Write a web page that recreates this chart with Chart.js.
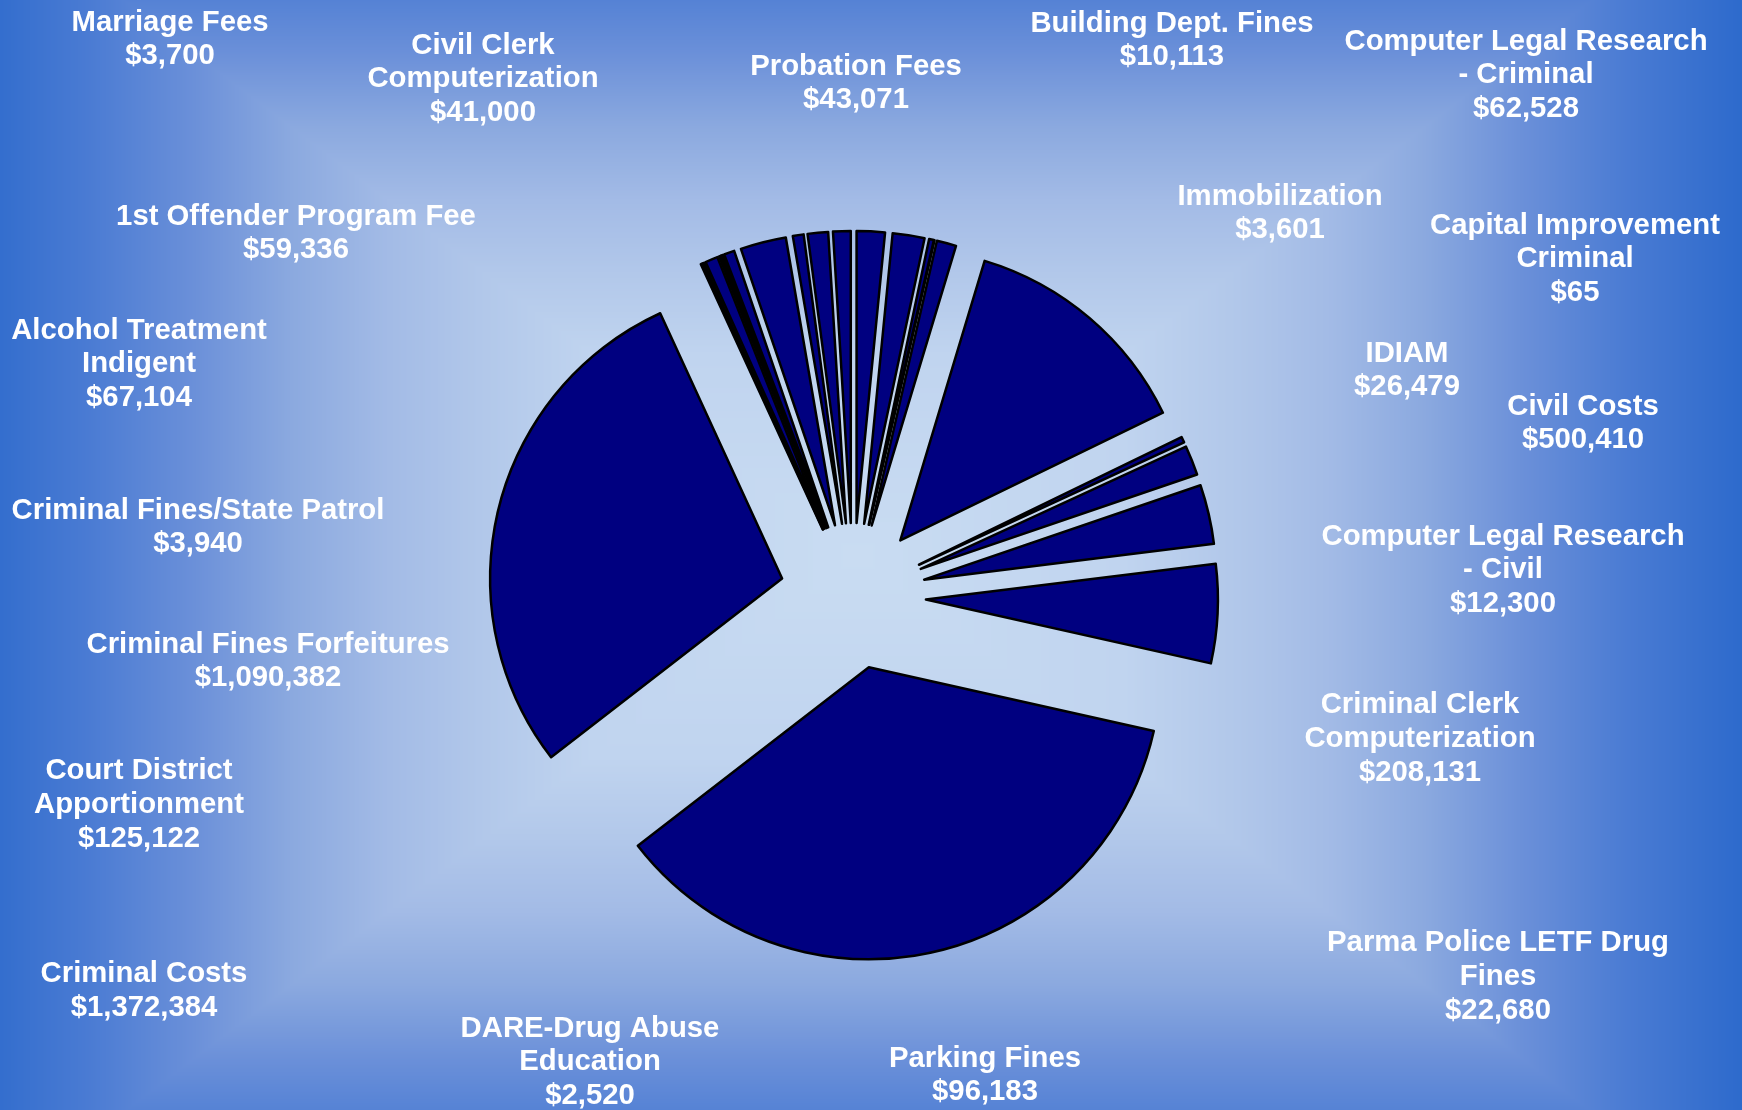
<!DOCTYPE html>
<html>
<head>
<meta charset="utf-8">
<title>Court Revenue</title>
<script src="https://cdn.jsdelivr.net/npm/chart.js@4.4.1/dist/chart.umd.min.js"></script>
<style>
html, body { margin: 0; padding: 0; background: #4a7bd3; overflow: hidden; }
canvas { display: block; }
</style>
</head>
<body>
<canvas id="chart" width="1742" height="1110"></canvas>
<script>
// ---------------- DATA ----------------
const categories = [
  '1st Offender Program Fee',
  'Alcohol Treatment Indigent',
  'Building Dept. Fines',
  'Capital Improvement Criminal',
  'Civil Clerk Computerization',
  'Civil Costs',
  'Computer Legal Research - Civil',
  'Computer Legal Research - Criminal',
  'Court District Apportionment',
  'Criminal Clerk Computerization',
  'Criminal Costs',
  'Criminal Fines Forfeitures',
  'Criminal Fines/State Patrol',
  'DARE-Drug Abuse Education',
  'IDIAM',
  'Immobilization',
  'Marriage Fees',
  '',                       // unlabeled slice
  'Parking Fines',
  'Parma Police LETF Drug Fines',
  'Probation Fees',
  ''                        // unlabeled slice
];

const values = [
  59336, 67104, 10113, 65, 41000, 500410, 12300, 62528, 125122, 208131,
  1372384, 1090382, 3940, 2520, 26479, 3601, 3700, 22000, 96183, 22680,
  43071, 37000
];

// label text lines (the value line is added from `values`)
const labelLines = [
  ['1st Offender Program Fee'],
  ['Alcohol Treatment', 'Indigent'],
  ['Building Dept. Fines'],
  ['Capital Improvement', 'Criminal'],
  ['Civil Clerk', 'Computerization'],
  ['Civil Costs'],
  ['Computer Legal Research', '- Civil'],
  ['Computer Legal Research', '- Criminal'],
  ['Court District', 'Apportionment'],
  ['Criminal Clerk', 'Computerization'],
  ['Criminal Costs'],
  ['Criminal Fines Forfeitures'],
  ['Criminal Fines/State Patrol'],
  ['DARE-Drug Abuse', 'Education'],
  ['IDIAM'],
  ['Immobilization'],
  ['Marriage Fees'],
  null,
  ['Parking Fines'],
  ['Parma Police LETF Drug', 'Fines'],
  ['Probation Fees'],
  null
];

// ---------------- LAYOUT (label anchors: centre x, first-line y) ----------------
const labelAnchors = [
  [296, 216.5], [139, 330.5], [1172, 23.5], [1575, 225.5], [483, 45.5], [1583, 406.5],
  [1503, 536.5], [1526, 41.5], [139, 771], [1420, 705], [144, 974], [268, 644.5],
  [198, 510.5], [590, 1028.5], [1407, 353.5], [1280, 196.5], [170, 22.5], null,
  [985, 1058.5], [1498, 943], [856, 66.5], null
];

// ---------------- exploded slice drawing (uniform radius, translated along bisector) ----------------
const ArcEl = Chart.ArcElement || (Chart.elements && Chart.elements.ArcElement);
ArcEl.prototype.draw = function (ctx) {
  const o = this.options;
  const a0 = this.startAngle, a1 = this.endAngle;
  if (!(a1 > a0)) return;
  const mid = (a0 + a1) / 2;
  const d = o.offset || 0;
  const cx = this.x + Math.cos(mid) * d;
  const cy = this.y + Math.sin(mid) * d;
  ctx.save();
  ctx.beginPath();
  ctx.moveTo(cx, cy);
  ctx.arc(cx, cy, this.outerRadius, a0, a1);
  ctx.closePath();
  ctx.fillStyle = o.backgroundColor;
  ctx.fill();
  if (o.borderWidth) {
    ctx.lineWidth = o.borderWidth;
    ctx.strokeStyle = o.borderColor;
    ctx.lineJoin = 'round';
    ctx.stroke();
  }
  ctx.restore();
};

// ---------------- background: rectangular path gradient ----------------
function hexToRgb(h) { const n = parseInt(h.slice(1), 16); return [(n >> 16) & 255, (n >> 8) & 255, n & 255]; }
const bgStops = [
  [0.00, '#c9dcf2'], [0.30, '#c0d4ef'], [0.42, '#b2c8ea'], [0.53, '#a3bbe6'],
  [0.64, '#8ba9df'], [0.75, '#6b90d9'], [0.87, '#4a7bd3'], [1.00, '#2d6acc']
].map(([t, c]) => [t, hexToRgb(c)]);
function bgColor(t) {
  for (let i = 1; i < bgStops.length; i++) {
    if (t <= bgStops[i][0]) {
      const [t0, c0] = bgStops[i - 1], [t1, c1] = bgStops[i];
      const f = (t - t0) / (t1 - t0);
      return [0, 1, 2].map(k => c0[k] + (c1[k] - c0[k]) * f);
    }
  }
  return bgStops[bgStops.length - 1][1];
}
let bgCache = null;
const backgroundPlugin = {
  id: 'pathGradientBackground',
  beforeDraw(chart) {
    const { ctx, width, height } = chart;
    if (!bgCache || bgCache.width !== width || bgCache.height !== height) {
      const off = document.createElement('canvas');
      off.width = width; off.height = height;
      const octx = off.getContext('2d');
      const img = octx.createImageData(width, height);
      const lut = [];
      for (let i = 0; i <= 1024; i++) lut.push(bgColor(i / 1024));
      const gx = 858, gy = 556, hw = 885, hh = 670;
      let p = 0;
      for (let y = 0; y < height; y++) {
        const ty = Math.abs(y + 0.5 - gy) / hh;
        for (let x = 0; x < width; x++) {
          const tx = Math.abs(x + 0.5 - gx) / hw;
          const t = Math.min(1, Math.max(tx, ty));
          const c = lut[Math.round(t * 1024)];
          img.data[p++] = c[0]; img.data[p++] = c[1]; img.data[p++] = c[2]; img.data[p++] = 255;
        }
      }
      octx.putImageData(img, 0, 0);
      bgCache = off;
    }
    ctx.save();
    ctx.drawImage(bgCache, 0, 0);
    ctx.restore();
  }
};

// ---------------- labels ----------------
const labelPlugin = {
  id: 'freeLabels',
  afterDraw(chart) {
    const ctx = chart.ctx;
    ctx.save();
    ctx.font = 'bold 29.3px "Liberation Sans", Arial, Helvetica, sans-serif';
    ctx.fillStyle = '#ffffff';
    ctx.textAlign = 'center';
    ctx.textBaseline = 'middle';
    const lineH = 33.9;
    categories.forEach((cat, i) => {
      const anchor = labelAnchors[i];
      const lines = labelLines[i];
      if (!anchor || !lines) return;
      const all = lines.concat(['$' + values[i].toLocaleString('en-US')]);
      all.forEach((txt, j) => ctx.fillText(txt, anchor[0], anchor[1] + j * lineH));
    });
    ctx.restore();
  }
};

// ---------------- chart ----------------
new Chart(document.getElementById('chart'), {
  type: 'pie',
  data: {
    labels: categories,
    datasets: [{
      data: values,
      backgroundColor: '#000080',
      borderColor: '#000000',
      borderWidth: 2.5,
      offset: 73,
      radius: 292
    }]
  },
  options: {
    responsive: false,
    animation: false,
    events: [],
    layout: { padding: { left: 0, right: 36, top: 82, bottom: 0 } },
    plugins: {
      legend: { display: false },
      tooltip: { enabled: false }
    }
  },
  plugins: [backgroundPlugin, labelPlugin]
});
</script>
</body>
</html>
